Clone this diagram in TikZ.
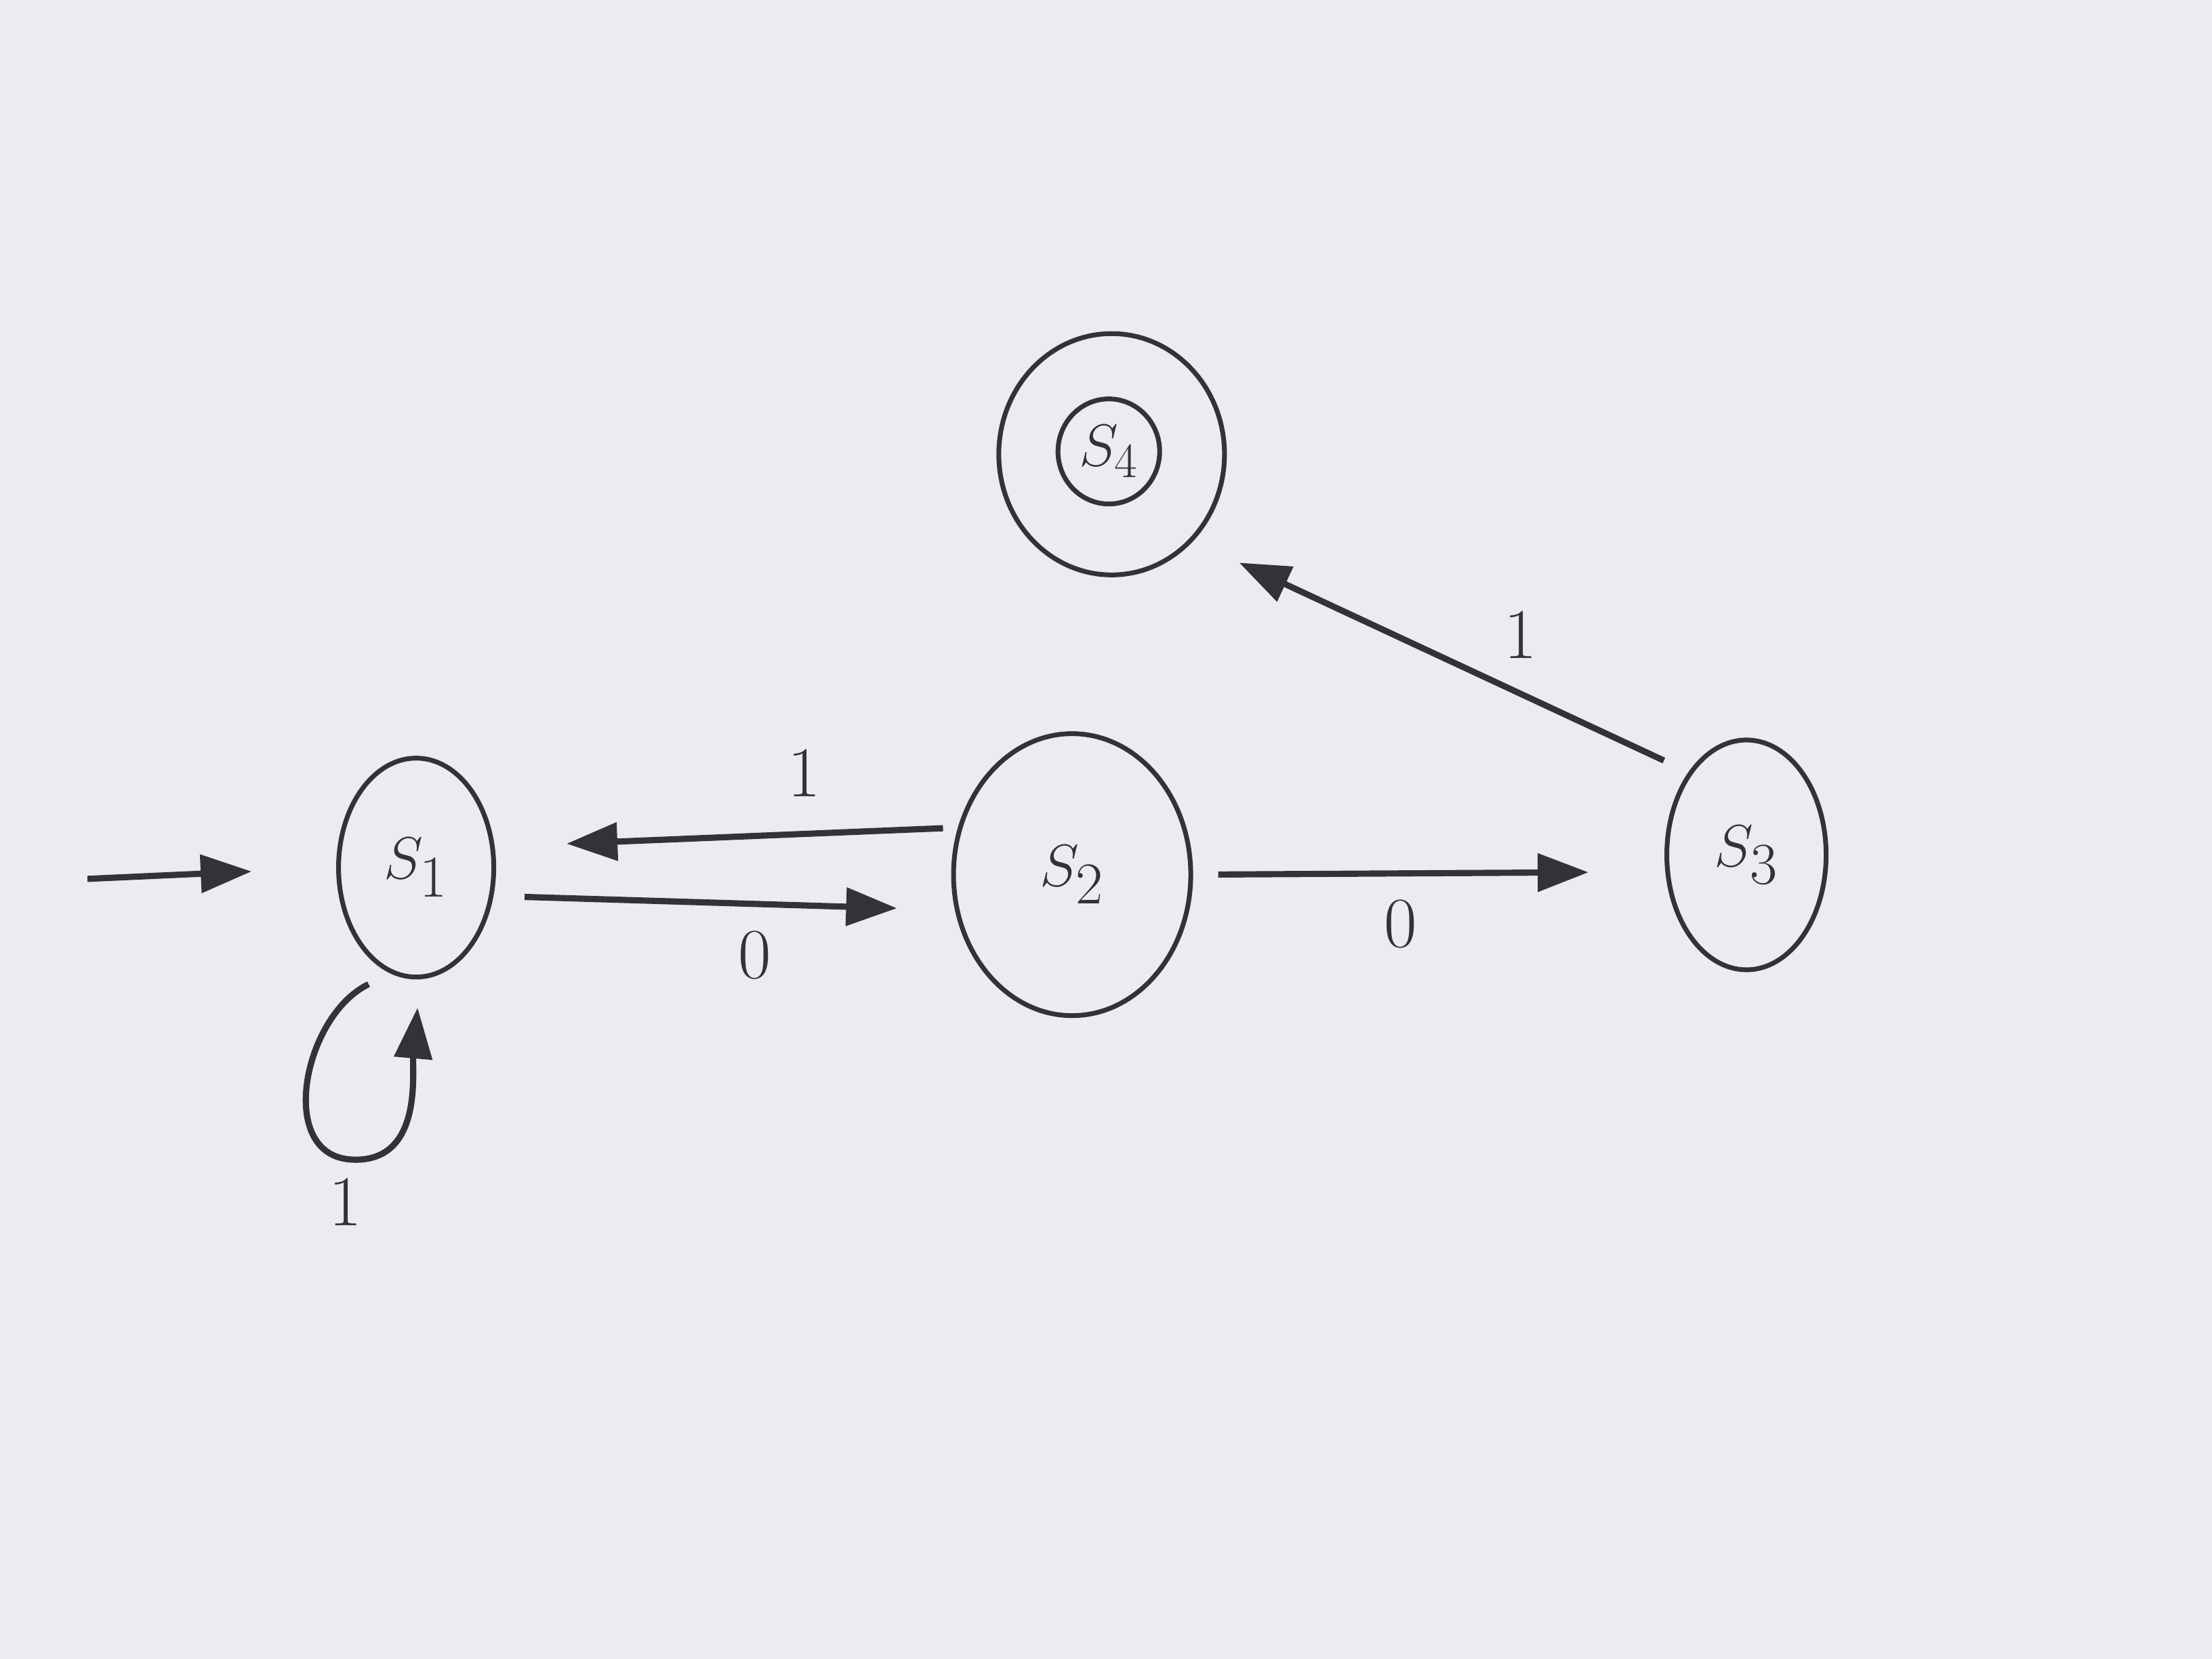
\documentclass[tikz,border=0pt]{standalone}
\usetikzlibrary{shapes.geometric,arrows.meta}
\definecolor{pencil}{RGB}{50,50,56}
\definecolor{paper}{RGB}{236,236,240}
\begin{document}
\begin{tikzpicture}[x=0.020816cm,y=-0.020816cm,
  state/.style={ellipse,draw=pencil,line width=2pt,inner sep=0pt,
    font=\fontsize{38}{44}\selectfont,text=pencil},
  arr/.style={draw=pencil,line width=2.6pt,-{Triangle[length=0.75cm,width=0.55cm]}},
  lab/.style={font=\fontsize{30}{34}\selectfont,text=pencil}]
\fill[paper] (0,0) rectangle (1568,1176);
\useasboundingbox (0,0) rectangle (1568,1176);

% states
\node[state,minimum width=2.29cm,minimum height=3.23cm] (s1) at (295,615) {$S_1$};
\node[state,minimum width=3.50cm,minimum height=4.16cm] (s2) at (760,620) {$S_2$};
\node[state,minimum width=2.35cm,minimum height=3.39cm] (s3) at (1238,606) {$S_3$};
\node[state,minimum width=3.33cm,minimum height=3.56cm] (s4) at (788,322) {};
\node[state,minimum width=1.50cm,minimum height=1.55cm,font=\fontsize{30}{34}\selectfont] (s4in) at (786,320) {$S_4$};

% initial arrow
\coordinate (init) at (62,623);
\draw[arr,shorten >=1.25cm] (init) -- (s1.west);

% S1 -> S2 (0)
\draw[arr,shorten <=0.42cm,shorten >=0.8cm] ([yshift=-0.42cm]s1.east) -- ([yshift=-0.52cm]s2.west);
% S2 -> S1 (1)
\draw[arr,shorten <=0.12cm,shorten >=1.04cm] ([yshift=0.69cm]s2.west) -- ([yshift=0.31cm]s1.east);
% S2 -> S3 (0)
\draw[arr,shorten <=0.37cm,shorten >=1.12cm] (s2.east) -- ([yshift=-0.25cm]s3.west);
% S3 -> S4 (1)
\draw[arr,shorten <=0.4cm,shorten >=0.75cm] (s3.north west) -- (s4.south east);
% self loop on S1 (1)
\draw[arr,shorten >=0.42cm] ([shift={(-8,12)}]s1.250) .. controls (215,720) and (195,820) .. (250,822)
  .. controls (300,824) and (292,760) .. (s1.272);

% labels
\node[lab] (l21) at (570,548) {1};
\node[lab] (l12) at (535,677) {0};
\node[lab] (l23) at (993,655) {0};
\node[lab] (l34) at (1078,450) {1};
\node[lab] (l11) at (245,852) {1};
\end{tikzpicture}
\end{document}
